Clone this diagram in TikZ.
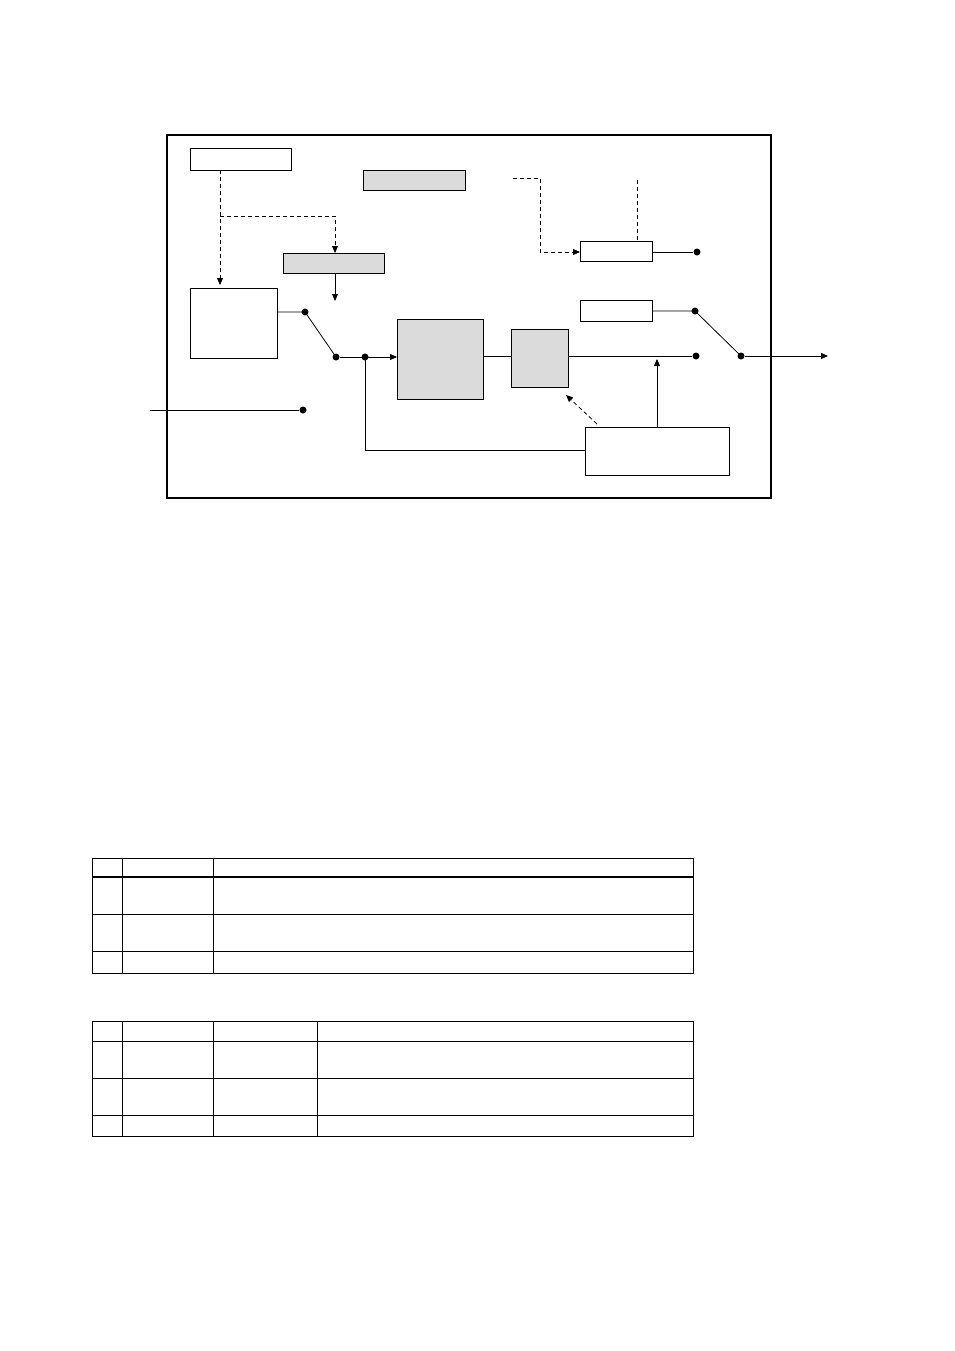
\documentclass[tikz,border=0pt]{standalone}
\usetikzlibrary{arrows.meta}
\begin{document}
\begin{tikzpicture}[x=1pt,y=-1pt,line width=0.8pt,
  wbox/.style={draw,fill=white},
  gbox/.style={draw,fill=black!14},
  dotc/.style={circle,fill=black,inner sep=0pt,minimum size=7pt},
  arr/.style={-{Triangle[length=7pt,width=6pt]}},
  dsh/.style={dashed,dash pattern=on 4pt off 3pt},
  tab/.style={line width=1pt}]
\useasboundingbox (0,0) rectangle (954,1351);
\draw[line width=1.3pt] (167,135) rectangle (771,498);
\draw[wbox] (190,148) rectangle (291,170);
\draw[gbox] (363,170) rectangle (465,190);
\draw[gbox] (283,253) rectangle (384,273);
\draw[wbox] (190,288) rectangle (277,358);
\draw[gbox] (397,319) rectangle (483,399);
\draw[gbox] (511,329) rectangle (568,387);
\draw[wbox] (585,427) rectangle (729,475);
\draw[wbox] (580,241) rectangle (652,261);
\draw[wbox] (580,300) rectangle (652,321);
\node[dotc] (d1) at (305,312) {};
\node[dotc] (d2) at (336,357) {};
\node[dotc] (d3) at (365,357) {};
\node[dotc] (d4) at (303,410) {};
\node[dotc] (d5) at (696,356) {};
\node[dotc] (d6) at (697,252) {};
\node[dotc] (d7) at (695,311) {};
\node[dotc] (d8) at (741,356) {};
\coordinate (out) at (828,356);
\coordinate (in) at (150,410);
% dashed
\draw[dsh,arr] (220,170) -- (220,285);
\draw[dsh,arr] (220,216) -- (335,216) -- (335,253);
\draw[arr] (335,273) -- (335,301);
\draw[dsh,arr] (513,178) -- (540,178) -- (540,252) -- (580,252);
\draw[dsh] (637,180) -- (637,241);
\draw[dsh,arr] (597,424) -- (566,395);
% solid
\draw (277,312) -- (d1.center) -- (d2.center);
\draw[arr] (d2) -- (397,357);
\draw (483,356) -- (511,356);
\draw (568,356) -- (d5);
\draw[arr] (657,427) -- (657,359);
\draw (d3.center) -- (365,450) -- (585,450);
\draw (in) -- (d4);
\draw (652,252) -- (d6);
\draw (652,311) -- (d7.center) -- (d8.center);
\draw[arr] (d8) -- (out);
% tables
\draw[tab] (92,858) rectangle (693,973);
\draw[line width=1.8pt] (92,877) -- (693,877);
\draw[tab] (92,914) -- (693,914) (92,951) -- (693,951);
\draw[tab] (122,858) -- (122,973) (213,858) -- (213,973);
\draw[tab] (92,1021) rectangle (693,1136);
\draw[tab] (92,1041) -- (693,1041) (92,1078) -- (693,1078) (92,1115) -- (693,1115);
\draw[tab] (122,1021) -- (122,1136) (213,1021) -- (213,1136) (317,1021) -- (317,1136);
\end{tikzpicture}
\end{document}
